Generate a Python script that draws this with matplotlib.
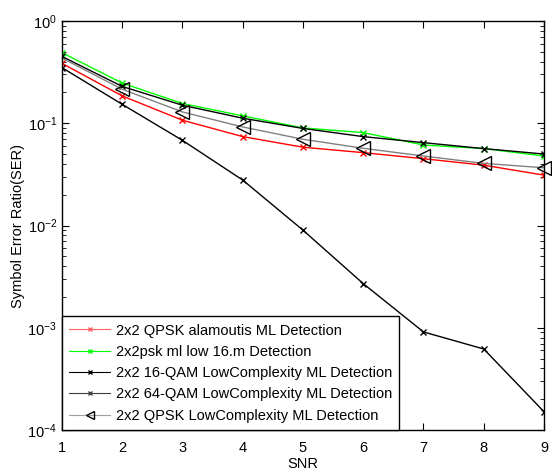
import matplotlib
matplotlib.use("Agg")
import matplotlib.pyplot as plt
from matplotlib.ticker import LogLocator, NullFormatter

plt.rcParams['font.family'] = ['Liberation Sans', 'DejaVu Sans']

snr = [1, 2, 3, 4, 5, 6, 7, 8, 9]
qpsk_alamouti = [0.385, 0.185, 0.107, 0.074, 0.0583, 0.0516, 0.045, 0.0389, 0.0311]
psk_low16 = [0.49, 0.247, 0.156, 0.118, 0.090, 0.081, 0.0613, 0.0565, 0.0478]
qam16_lc = [0.45, 0.229, 0.150, 0.112, 0.089, 0.074, 0.0646, 0.0565, 0.050]
qam64_lc = [0.35, 0.153, 0.068, 0.0278, 0.0090, 0.0027, 0.00091, 0.00062, 0.000151]
qpsk_lc = [0.434, 0.215, 0.129, 0.092, 0.0697, 0.0569, 0.0478, 0.0405, 0.0367]

labels = ["2x2 QPSK alamoutis ML Detection",
          "2x2psk ml low 16.m Detection",
          "2x2 16-QAM LowComplexity ML Detection",
          "2x2 64-QAM LowComplexity ML Detection",
          "2x2 QPSK LowComplexity ML Detection"]

fig = plt.figure(figsize=(5.52, 4.74), dpi=100)
ax = fig.add_axes([0.1123, 0.0928, 0.8732, 0.8629])

ax.semilogy(snr, qpsk_alamouti, color='#ff0000', marker='x', ms=5, lw=1, label=labels[0])
ax.semilogy(snr, psk_low16, color='#00ff00', marker='x', ms=5, lw=1, label=labels[1])
ax.semilogy(snr, qam16_lc, color='#000000', marker='x', ms=5, lw=1, label=labels[2])
ax.semilogy(snr, qam64_lc, color='#000000', marker='x', ms=5, lw=1, label=labels[3])
ax.semilogy(snr, qpsk_lc, color='#808080', marker='<', ms=10, mfc='none', mec='#000000',
            lw=1, markevery=slice(1, None), clip_on=False, label=labels[4])

ax.set_xlim(1, 9)
ax.set_ylim(1e-4, 1)
ax.set_xticks(snr)
ax.yaxis.set_major_locator(LogLocator(base=10, numticks=10))
ax.yaxis.set_minor_locator(LogLocator(base=10, subs=range(2, 10), numticks=20))
ax.yaxis.set_minor_formatter(NullFormatter())
ax.tick_params(which='both', direction='in', top=True, right=True, labelsize=10.5)
ax.tick_params(axis='x', which='major', pad=8)
ax.tick_params(which='major', length=5)
ax.tick_params(which='minor', length=3)
for s in ax.spines.values():
    s.set_linewidth(1)

ax.set_xlabel("SNR", fontsize=10.5, labelpad=1)
ax.set_ylabel("Symbol Error Ratio(SER)", fontsize=10.5, labelpad=2)

leg = ax.legend(loc='lower left', borderaxespad=0, fontsize=10.5, fancybox=False,
                edgecolor='black', framealpha=1, handlelength=2.8, handletextpad=0.4,
                labelspacing=0.5, borderpad=0.5, markerscale=0.6)
leg.get_frame().set_linewidth(1)
lines = leg.get_lines()
lines[0].set_color('#ff6060')
lines[3].set_color('#404040')
lines[4].set_color('#a0a0a0')
for ln in lines:
    ln.set_linewidth(0.8)

fig.savefig("out.png", dpi=100)
